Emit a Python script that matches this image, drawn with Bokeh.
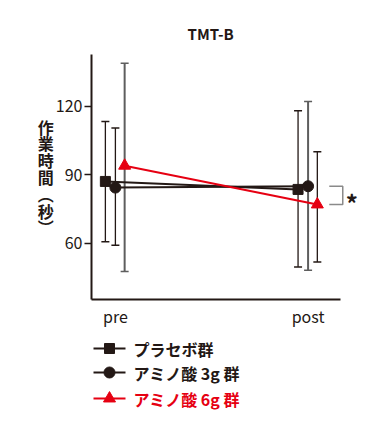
from bokeh.plotting import figure
from bokeh.models import ColumnDataSource, Label, FixedTicker, Range1d
from bokeh.core.properties import value
from bokeh.layouts import column
from bokeh.embed import file_html
from bokeh.resources import INLINE

# ---- data ----
times = ["pre", "post"]
series_names = ["プラセボ群", "アミノ酸 3g 群", "アミノ酸 6g 群"]
placebo_mean = [87.1, 83.6]
placebo_upper = [113.4, 118.1]
placebo_lower = [60.6, 49.6]
amino3_mean = [84.4, 85.0]
amino3_upper = [110.6, 122.2]
amino3_lower = [59.1, 48.1]
amino6_mean = [94.0, 77.0]
amino6_upper = [139.0, 100.1]
amino6_lower = [47.6, 51.8]
y_ticks = [60, 90, 120]

FONT = "Noto Sans CJK JP"
BLACK = "#231815"
RED = "#e60012"
GRAY = "#5e5e5e"

X0, X1 = -0.124, 1.1686
p = figure(width=385, height=330, output_backend="svg", toolbar_location=None,
           x_range=(X0, 1.298), y_range=(35.3, 142.8),
           min_border_left=91, min_border_right=20, min_border_top=54, min_border_bottom=31)
p.outline_line_color = None
p.grid.grid_line_color = None

p.title.text = "TMT-B"
p.title.align = "left"
p.title.offset = 96
p.title.text_font = FONT
p.title.text_font_size = "15px"
p.title.text_font_style = "bold"
p.title.text_color = BLACK
p.title.standoff = 22

# axes
p.xaxis.ticker = FixedTicker(ticks=[0, 1])
p.xaxis.bounds = (X0, X1)
p.xaxis.major_label_overrides = {0: times[0], 1: times[1]}
p.xaxis.major_tick_line_color = None
p.xaxis.minor_tick_line_color = None
p.xaxis.axis_line_width = 2
p.xaxis.axis_line_color = BLACK
p.xaxis.major_label_text_font = FONT
p.xaxis.major_label_text_font_size = "16px"
p.xaxis.major_label_text_color = BLACK
p.xaxis.major_label_standoff = -2

p.yaxis.ticker = FixedTicker(ticks=y_ticks)
p.yaxis.minor_tick_line_color = None
p.yaxis.major_tick_out = 7
p.yaxis.major_tick_in = 0
p.yaxis.major_tick_line_width = 1.5
p.yaxis.major_tick_line_color = BLACK
p.yaxis.axis_line_width = 2
p.yaxis.axis_line_color = BLACK
p.yaxis.major_label_text_font = FONT
p.yaxis.major_label_text_font_size = "16px"
p.yaxis.major_label_text_color = BLACK
p.yaxis.major_label_standoff = 2
p.yaxis.axis_label = "作\n業\n時\n間\n︵\n秒\n︶"
p.yaxis.axis_label_orientation = "horizontal"
p.yaxis.axis_label_text_font = FONT
p.yaxis.axis_label_text_font_size = "16px"
p.yaxis.axis_label_text_font_style = "bold"
p.yaxis.axis_label_text_color = BLACK
p.yaxis.axis_label_text_line_height = 0.7
p.yaxis.axis_label_standoff = -1

offsets = [-0.052, 0.0, 0.048]
xs = [[i + o for i in range(len(times))] for o in offsets]

# error bars
eb_colors = [[BLACK, BLACK], [BLACK, GRAY], [GRAY, BLACK]]
uppers = [placebo_upper, amino3_upper, amino6_upper]
lowers = [placebo_lower, amino3_lower, amino6_lower]
for k in range(3):
    widths = [2.0 if c == GRAY else 1.3 for c in eb_colors[k]]
    src = ColumnDataSource(dict(x=xs[k], up=uppers[k], lo=lowers[k], c=eb_colors[k], w=widths))
    p.segment(x0="x", y0="lo", x1="x", y1="up", line_color="c", line_width="w", source=src)
    p.scatter(x="x", y="up", marker="dash", size=8, line_color="c", line_width=1.5, source=src)
    p.scatter(x="x", y="lo", marker="dash", size=8, line_color="c", line_width=1.5, source=src)

# lines and markers
p.line(xs[0], placebo_mean, line_color=BLACK, line_width=2)
p.line(xs[1], amino3_mean, line_color=BLACK, line_width=2)
p.line(xs[2], amino6_mean, line_color=RED, line_width=2)
p.scatter(xs[0], placebo_mean, marker="square", size=10, fill_color=BLACK, line_color=BLACK)
p.scatter(xs[1], amino3_mean, marker="circle", size=11, fill_color=BLACK, line_color=BLACK)
p.scatter(xs[2], amino6_mean, marker="triangle", size=12, fill_color=RED, line_color=RED)

# significance bracket between post 3g and post 6g
bx0 = 1 + 0.11
bx1 = 1 + 0.18
p.line([bx0, bx1, bx1, bx0], [amino3_mean[1], amino3_mean[1], amino6_mean[1], amino6_mean[1]],
       line_color="#8a8a8a", line_width=1.5)
p.add_layout(Label(x=1 + 0.195, y=(amino3_mean[1] + amino6_mean[1]) / 2, text="*",
                   text_font=FONT, text_font_size="24px", text_font_style="bold",
                   text_color=BLACK, text_baseline="middle", text_align="left", y_offset=-7))

# legend panel (pixel-space figure; its frame is aligned with the main frame, x 91..365)
q = figure(width=385, height=104, output_backend="svg", toolbar_location=None,
           x_axis_type=None, y_axis_type=None,
           x_range=Range1d(91, 365), y_range=Range1d(104, 0), min_border=0)
q.outline_line_color = None
q.grid.grid_line_color = None
rows_y = [18, 42, 68]
markers = ["square", "circle", "triangle"]
sizes = [10, 11, 12]
colors = [BLACK, BLACK, RED]
for name, ry, mk, sz, c in zip(series_names, rows_y, markers, sizes, colors):
    q.segment(x0=[93], y0=[ry], x1=[125], y1=[ry], line_color=c, line_width=2)
    q.scatter(x=[109], y=[ry], marker=mk, size=sz, fill_color=c, line_color=c)
    q.text(x=[133], y=[ry], text=[name], text_font=value(FONT), text_font_size="16px",
           text_font_style="bold", text_color=c, text_baseline="middle", text_align="left")

layout = column(p, q, spacing=0)
open("out.html", "w").write(file_html(layout, INLINE))
